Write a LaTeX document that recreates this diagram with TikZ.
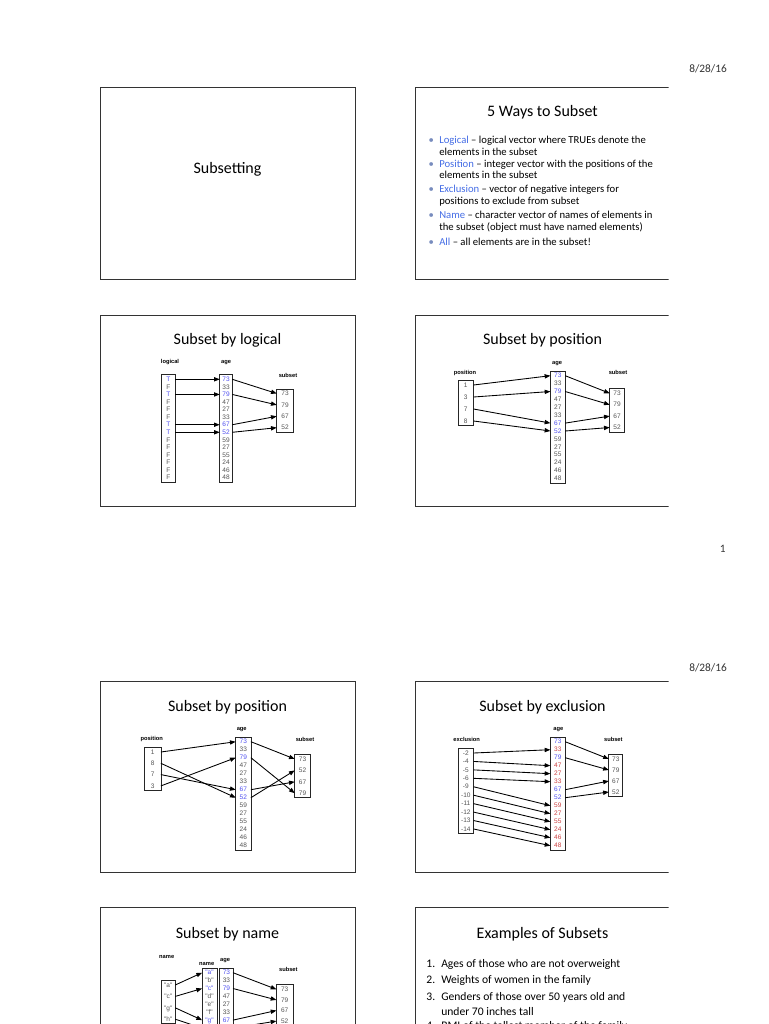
\documentclass[tikz,border=0pt]{standalone}
\usepackage{fontspec}
\setmainfont{Carlito}
\newfontfamily\arialf{Liberation Sans}
\usetikzlibrary{arrows.meta,positioning,fit}

\definecolor{selblue}{RGB}{80,80,240}
\definecolor{exred}{RGB}{205,65,65}
\definecolor{valgray}{RGB}{85,85,85}
\definecolor{keyblue}{RGB}{70,110,230}
\definecolor{dotgray}{RGB}{120,140,190}

\newcommand{\kw}[1]{\textcolor{keyblue}{#1}}
\newcommand{\agelist}{73/selblue,33/valgray,79/selblue,47/valgray,27/valgray,33/valgray,67/selblue,52/selblue,59/valgray,27/valgray,55/valgray,24/valgray,46/valgray,48/valgray}
\newcommand{\exagelist}{73/selblue,33/exred,79/selblue,47/exred,27/exred,33/exred,67/selblue,52/selblue,59/exred,27/exred,55/exred,24/exred,46/exred,48/exred}
\newcommand{\sublist}{73/valgray,79/valgray,67/valgray,52/valgray}

% one column of values with its box: name, x, first y, row step, width, list
\newcommand{\valcol}[6]{%
  \foreach \val/\col [count=\k] in #6 {
    \node[cell,minimum width=#5,text=\col] (#1-\k) at (#2,{#3+(\k-1)*#4}) {\val};
    \xdef\lastk{\k}
  }
  \node[colbox,fit=(#1-1)(#1-\lastk)] (#1) {};
}

\begin{document}
\begin{tikzpicture}[x=0.75pt,y=-0.75pt,
  slide/.style={draw=black!80,line width=0.6pt,minimum width=191.25pt,
    minimum height=143.5pt,inner sep=0pt},
  title/.style={font=\fontsize{12}{14}\selectfont},
  date/.style={anchor=east,inner sep=0pt,text=black!80,font=\fontsize{8.5}{10}\selectfont},
  item/.style={anchor=north west,align=left,inner sep=0pt,
    font=\fontsize{8}{8.5}\selectfont},
  exitem/.style={anchor=north west,align=left,inner sep=0pt,
    font=\fontsize{8.7}{11.5}\selectfont},
  cell/.style={inner sep=0pt,text height=3.5pt,text depth=0.2pt,
    font=\arialf\fontsize{4.9}{5}\selectfont},
  colbox/.style={draw=black!85,line width=0.6pt,inner xsep=0pt,inner ysep=1.4pt},
  head/.style={inner sep=0pt,font=\arialf\bfseries\fontsize{4.3}{5}\selectfont},
  link/.style={-{Triangle[length=4.3pt,width=3.2pt]},line width=0.65pt}
]
  \path[use as bounding box,fill=white] (0,0) rectangle (768,1024);

  % page headers
  \node[date] (d1) at (727,69) {8/28/16};
  \node[date] (pg1) at (726,549) {1};
  \node[date] (d2) at (727,668) {8/28/16};

  % slide frames
  \node[slide] (sl1) at (227.5,183.5) {};
  \node[slide] (sl3) at (227.5,411) {};
  \node[slide] (sl5) at (227.5,777) {};
  \node[slide] (sl7) at (227.5,1003.5) {};
  \begin{scope}
    \clip (0,0) rectangle (668.5,1024);
    \node[slide] (sl2) at (542.5,183.5) {};
    \node[slide] (sl4) at (542.5,411) {};
    \node[slide] (sl6) at (542.5,777) {};
    \node[slide] (sl8) at (542.5,1003.5) {};
  \end{scope}

  % titles
  \node[title] (t1) at (227.5,169) {Subsetting};
  \node[title] (t2) at (542.5,112.5) {5 Ways to Subset};
  \node[title] (t3) at (227.5,340.5) {Subset by logical};
  \node[title] (t4) at (542.5,340.5) {Subset by position};
  \node[title] (t5) at (227.5,707.5) {Subset by position};
  \node[title] (t6) at (542.5,707.5) {Subset by exclusion};
  \node[title] (t7) at (227.5,934.5) {Subset by name};
  \node[title] (t8) at (542.5,934.5) {Examples of Subsets};

  % 5 ways
  \node[item] (w1) at (439,136) {\llap{\textcolor{dotgray}{\textbullet}\hspace{4pt}}\kw{Logical} -- logical vector where TRUEs denote the\\elements in the subset};
  \node[item] (w2) at (439,159.6) {\llap{\textcolor{dotgray}{\textbullet}\hspace{4pt}}\kw{Position} -- integer vector with the positions of the\\elements in the subset};
  \node[item] (w3) at (439,185.3) {\llap{\textcolor{dotgray}{\textbullet}\hspace{4pt}}\kw{Exclusion} -- vector of negative integers for\\positions to exclude from subset};
  \node[item] (w4) at (439,211.3) {\llap{\textcolor{dotgray}{\textbullet}\hspace{4pt}}\kw{Name} -- character vector of names of elements in\\the subset (object must have named elements)};
  \node[item] (w5) at (439,237.6) {\llap{\textcolor{dotgray}{\textbullet}\hspace{4pt}}\kw{All} -- all elements are in the subset!};

  % examples
  \node[exitem] (e1) at (441,959.2) {\llap{1.\hspace{4.5pt}}Ages of those who are not overweight};
  \node[exitem] (e2) at (441,974.7) {\llap{2.\hspace{4.5pt}}Weights of women in the family};
  \node[exitem] (e3) at (441,991.7) {\llap{3.\hspace{4.5pt}}Genders of those over 50 years old and\\under 70 inches tall};
  \node[exitem] (e4) at (441,1021.2) {\llap{4.\hspace{4.5pt}}BMI of the tallest member of the family};

  % subset by logical
  \valcol{lg}{168.3}{379.3}{7.57}{9.75pt}{{T/selblue,F/valgray,T/selblue,F/valgray,F/valgray,F/valgray,T/selblue,T/selblue,F/valgray,F/valgray,F/valgray,F/valgray,F/valgray,F/valgray}}
  \valcol{ag}{226}{379.3}{7.57}{9pt}{\agelist}
  \valcol{sb}{285}{393.5}{11.4}{12pt}{\sublist}
  \node[head] (lgh) at (170,362) {logical};
  \node[head] (agh) at (226,363) {age};
  \node[head] (sbh) at (288,375) {subset};
  \foreach \s/\t in {1/1,3/3,7/7,8/8}
    \draw[link] (lg-\s.east) -- (ag-\t.west);
  \foreach \s/\t in {1/1,3/2,7/3,8/4}
    \draw[link] (ag-\s.east) -- (sb-\t.west);

  % subset by position
  \valcol{ps}{465.8}{385}{12}{11.25pt}{{1/valgray,3/valgray,7/valgray,8/valgray}}
  \valcol{pa}{557.8}{375.7}{7.9}{10.7pt}{\agelist}
  \valcol{pb}{617}{393.3}{11.4}{10.5pt}{\sublist}
  \node[head] (psh) at (465,372.7) {position};
  \node[head] (pah) at (557,363.3) {age};
  \node[head] (pbh) at (618,372.7) {subset};
  \foreach \s/\t in {1/1,2/3,3/7,4/8}
    \draw[link] (ps-\s.east) -- (pa-\t.west);
  \foreach \s/\t in {1/1,3/2,7/3,8/4}
    \draw[link] (pa-\s.east) -- (pb-\t.west);

  % subset by position, reordered
  \valcol{qs}{152.8}{752}{11.3}{11.75pt}{{1/valgray,8/valgray,7/valgray,3/valgray}}
  \valcol{qa}{243.3}{741.7}{8}{11pt}{\agelist}
  \valcol{qb}{302.5}{759}{11.4}{11.25pt}{{73/valgray,52/valgray,67/valgray,79/valgray}}
  \node[head] (qsh) at (151.7,739) {position};
  \node[head] (qah) at (241.7,730) {age};
  \node[head] (qbh) at (305,739) {subset};
  \foreach \s/\t in {1/1,2/8,3/7,4/3}
    \draw[link] (qs-\s.east) -- (qa-\t.west);
  \foreach \s/\t in {1/1,3/4,7/3,8/2}
    \draw[link] (qa-\s.east) -- (qb-\t.west);

  % subset by exclusion
  \valcol{ex}{465.8}{753}{8.44}{11.25pt}{{-2/valgray,-4/valgray,-5/valgray,-6/valgray,-9/valgray,-10/valgray,-11/valgray,-12/valgray,-13/valgray,-14/valgray}}
  \valcol{ea}{557.8}{741.7}{8}{10.7pt}{\exagelist}
  \valcol{eb}{615.8}{759}{11}{10pt}{\sublist}
  \node[head] (exh) at (466.7,739) {exclusion};
  \node[head] (eah) at (558.3,730) {age};
  \node[head] (ebh) at (613.3,739) {subset};
  \foreach \s/\t in {1/2,2/4,3/5,4/6,5/9,6/10,7/11,8/12,9/13,10/14}
    \draw[link] (ex-\s.east) -- (ea-\t.west);
  \foreach \s/\t in {1/1,3/2,7/3,8/4}
    \draw[link] (ea-\s.east) -- (eb-\t.west);

  % subset by name
  \valcol{nm}{168.3}{985}{11.4}{10pt}{{"a"/valgray,"c"/valgray,"g"/valgray,"h"/valgray}}
  \valcol{nn}{209.5}{972.7}{7.9}{10.7pt}{{"a"/selblue,"b"/valgray,"c"/selblue,"d"/valgray,"e"/valgray,"f"/valgray,"g"/selblue,"h"/selblue,"i"/valgray,"j"/valgray,"k"/valgray,"l"/valgray,"m"/valgray,"n"/valgray}}
  \valcol{na}{226.4}{972.7}{7.9}{9.5pt}{\agelist}
  \valcol{nb}{284.7}{989.3}{10.6}{12pt}{\sublist}
  \node[head] (nmh) at (166.7,956.7) {name};
  \node[head] (nnh) at (206.7,964) {name};
  \node[head] (nah) at (225,960.7) {age};
  \node[head] (nbh) at (288.3,969.3) {subset};
  \foreach \s/\t in {1/1,2/3,3/7,4/8}
    \draw[link] (nm-\s.east) -- (nn-\t.west);
  \foreach \s/\t in {1/1,3/2,7/3,8/4}
    \draw[link] (na-\s.east) -- (nb-\t.west);
\end{tikzpicture}
\end{document}
